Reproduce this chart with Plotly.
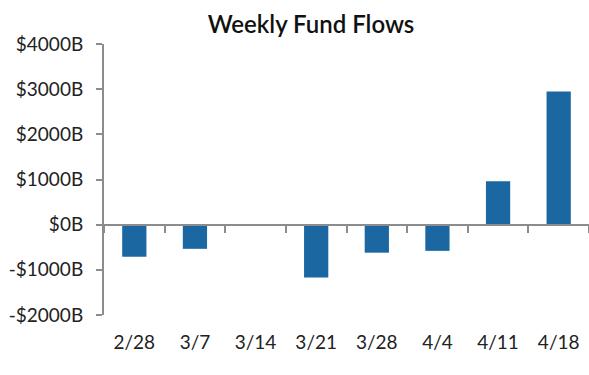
import plotly.graph_objects as go

weeks = ["2/28", "3/7", "3/14", "3/21", "3/28", "4/4", "4/11", "4/18"]
flows = [-710, -535, 12, -1170, -620, -580, 960, 2950]
ytick_vals = [-2000, -1000, 0, 1000, 2000, 3000, 4000]
ytick_text = ["-$2000B", "-$1000B", "$0B", "$1000B", "$2000B", "$3000B", "$4000B"]

axis_gray = "#8c8c8c"
bar_color = "#1b67a1"
font_family = "Lato, 'Noto Sans', sans-serif"

fig = go.Figure()
fig.add_trace(go.Bar(x=weeks, y=flows, marker_color=bar_color, marker_line_width=0,
                     hoverinfo="x+y"))
# invisible trace for the zero-position axis carrying boundary ticks
fig.add_trace(go.Scatter(x=weeks, y=flows, xaxis="x2", mode="markers",
                         marker=dict(opacity=0), hoverinfo="skip", showlegend=False))

fig.update_layout(
    width=589, height=375,
    margin=dict(l=104, r=0, t=44, b=60),
    paper_bgcolor="white", plot_bgcolor="white",
    showlegend=False,
    bargap=0.6,
    title=dict(text="Weekly Fund Flows", x=311/589, xref="container", xanchor="center",
               y=1-25/375, yref="container", yanchor="middle",
               font=dict(family=font_family, size=24, color="#111", weight=600)),
    font=dict(family=font_family, size=19, color="#222"),
    xaxis=dict(type="category", categoryorder="array", categoryarray=weeks,
               showline=False, ticks="", showgrid=False, zeroline=False, automargin=False,
               ticklabelstandoff=14, tickfont=dict(size=19, color="#222")),
    xaxis2=dict(type="category", categoryorder="array", categoryarray=weeks,
                overlaying="x", matches="x", anchor="free", position=1/3,
                showline=True, linecolor=axis_gray, linewidth=2, automargin=False,
                ticks="outside", tickson="boundaries", ticklen=7, tickwidth=2,
                tickcolor=axis_gray, showticklabels=False, showgrid=False, zeroline=False),
    yaxis=dict(range=[-2000, 4000], tickvals=ytick_vals, ticktext=ytick_text,
               showline=True, linecolor=axis_gray, linewidth=2, automargin=False,
               ticks="outside", ticklen=6, tickwidth=2, tickcolor=axis_gray,
               showgrid=False, zeroline=False, ticklabelstandoff=9,
               tickfont=dict(size=19, color="#222")),
)

fig.write_html("out.html", config={"displayModeBar": False},
               post_script="document.body.style.margin='0';document.body.style.overflow='hidden';")
